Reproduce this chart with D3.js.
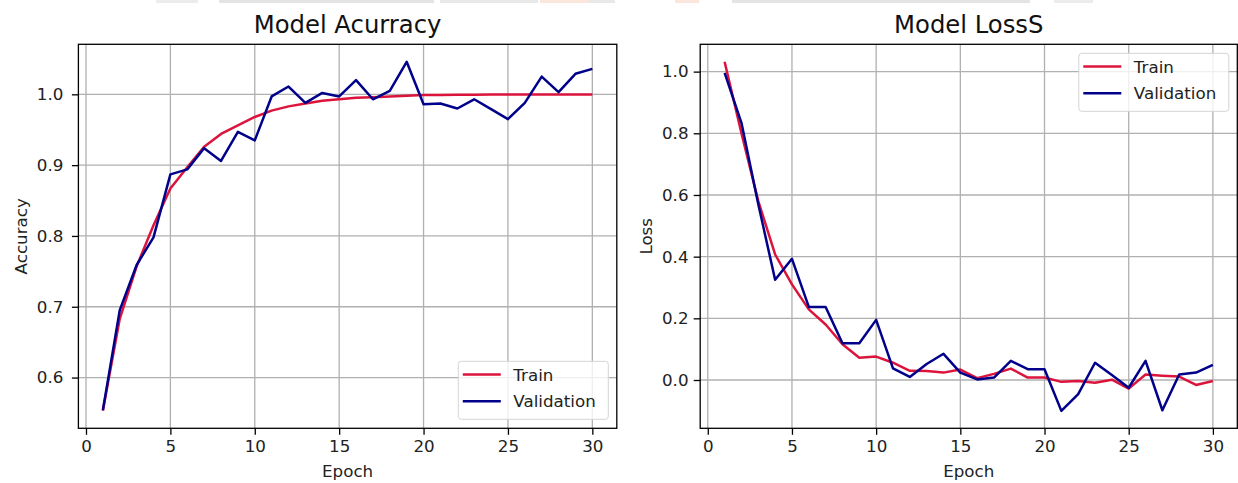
<!DOCTYPE html>
<html>
<head>
<meta charset="utf-8">
<script src="https://cdn.jsdelivr.net/npm/d3@7"></script>
<style>
  body { margin: 0; background: #fff; }
  svg { display: block; font-family: "DejaVu Sans", sans-serif; }
</style>
</head>
<body>
<div id="chart"></div>
<script>
// Data
const epochs = d3.range(1, 31);

const trainAcc = [0.553, 0.683, 0.757, 0.815, 0.867, 0.897, 0.926, 0.944, 0.956, 0.968,
                  0.977, 0.983, 0.987, 0.991, 0.993, 0.995, 0.996, 0.997, 0.998, 0.999,
                  0.999, 0.9993, 0.9995, 0.9996, 0.9997, 0.9998, 0.9998, 0.9999, 0.9999, 0.9999];
const valAcc = [0.554, 0.695, 0.759, 0.798, 0.887, 0.894, 0.924, 0.906, 0.947, 0.935,
                0.997, 1.011, 0.988, 1.002, 0.997, 1.020, 0.993, 1.005, 1.046, 0.986,
                0.987, 0.980, 0.993, 0.979, 0.965, 0.988, 1.025, 1.003, 1.029, 1.036];

const trainLoss = [1.032, 0.800, 0.580, 0.407, 0.310, 0.229, 0.180, 0.116, 0.072, 0.076,
                   0.056, 0.030, 0.029, 0.024, 0.034, 0.006, 0.020, 0.037, 0.008, 0.008,
                   -0.006, -0.003, -0.009, 0.001, -0.028, 0.018, 0.014, 0.011, -0.016, -0.003];
const valLoss = [0.996, 0.834, 0.570, 0.325, 0.393, 0.237, 0.237, 0.119, 0.119, 0.195,
                 0.038, 0.010, 0.052, 0.085, 0.024, 0.002, 0.008, 0.062, 0.035, 0.035,
                 -0.100, -0.046, 0.056, 0.016, -0.025, 0.062, -0.098, 0.018, 0.024, 0.049];

const xTicks = [0, 5, 10, 15, 20, 25, 30];
const accTicks = [0.6, 0.7, 0.8, 0.9, 1.0];
const lossTicks = [0.0, 0.2, 0.4, 0.6, 0.8, 1.0];
const seriesNames = ["Train", "Validation"];

const width = 1238, height = 483;
const trainColor = "#dc143c", valColor = "#00008b";
const gridColor = "#b0b0b0";
const fontSize = 16.7;

const svg = d3.select("#chart")
    .append("svg")
    .attr("width", width)
    .attr("height", height);

// faint strip left over at the top of the screenshot
const strips = [[156, 198, "#ececec"], [219, 434, "#e4e4e4"], [440, 538, "#e8e8e8"],
                [540, 589, "#fbe6dc"], [589, 615, "#e8e8e8"], [675, 699, "#fbe6dc"],
                [732, 1030, "#e4e4e4"], [1054, 1093, "#ececec"]];
svg.selectAll(".strip").data(strips).enter().append("rect")
    .attr("class", "strip")
    .attr("x", d => d[0]).attr("y", 0)
    .attr("width", d => d[1] - d[0]).attr("height", 3)
    .attr("fill", d => d[2]);

function drawPanel(p) {
    const all = p.train.concat(p.val);
    const lo = d3.min(all), hi = d3.max(all), pad = (hi - lo) * 0.05;

    const x = d3.scaleLinear().domain([1 - 1.45, 30 + 1.45]).range([p.left, p.right]);
    const y = d3.scaleLinear().domain([lo - pad, hi + pad]).range([428.3, 44.3]);

    const g = svg.append("g");

    // grid
    g.selectAll(".vgrid").data(xTicks).enter().append("line")
        .attr("x1", d => x(d)).attr("x2", d => x(d))
        .attr("y1", y.range()[1]).attr("y2", y.range()[0])
        .attr("stroke", gridColor).attr("stroke-width", 1.3);
    g.selectAll(".hgrid").data(p.yTicks).enter().append("line")
        .attr("x1", p.left).attr("x2", p.right)
        .attr("y1", d => y(d)).attr("y2", d => y(d))
        .attr("stroke", gridColor).attr("stroke-width", 1.3);

    // axes
    const xAxis = g.append("g")
        .attr("transform", `translate(0,${y.range()[0]})`)
        .call(d3.axisBottom(x).tickValues(xTicks).tickSize(6.5).tickPadding(5).tickFormat(d3.format("d")));
    const yAxis = g.append("g")
        .attr("transform", `translate(${p.left},0)`)
        .call(d3.axisLeft(y).tickValues(p.yTicks).tickSize(6.5).tickPadding(p.labelPad).tickFormat(d3.format(".1f")));
    [xAxis, yAxis].forEach(a => {
        a.select(".domain").remove();
        a.selectAll("line").attr("stroke", "#000").attr("stroke-width", 1.3);
        a.selectAll("text").attr("fill", "#222").style("font-size", fontSize + "px")
            .style("font-family", "DejaVu Sans");
    });

    // lines
    const line = vals => d3.line().x((d, i) => x(epochs[i])).y(d => y(d))(vals);
    g.append("path").attr("d", line(p.train)).attr("fill", "none")
        .attr("stroke", trainColor).attr("stroke-width", 2.5).attr("stroke-linejoin", "round");
    g.append("path").attr("d", line(p.val)).attr("fill", "none")
        .attr("stroke", valColor).attr("stroke-width", 2.5).attr("stroke-linejoin", "round");

    // frame
    g.append("rect")
        .attr("x", p.left).attr("y", y.range()[1])
        .attr("width", p.right - p.left).attr("height", y.range()[0] - y.range()[1])
        .attr("fill", "none").attr("stroke", "#000").attr("stroke-width", 1.3);

    // titles and labels
    const cx = (p.left + p.right) / 2;
    g.append("text").attr("x", cx).attr("y", 32.7).attr("text-anchor", "middle")
        .style("font-size", "24.3px").attr("fill", "#111").text(p.title);
    g.append("text").attr("x", cx).attr("y", 477).attr("text-anchor", "middle")
        .style("font-size", fontSize + "px").attr("fill", "#222").text("Epoch");
    g.append("text")
        .attr("transform", `translate(${p.yLabelX},${(428.3 + 44.3) / 2}) rotate(-90)`)
        .attr("text-anchor", "middle")
        .style("font-size", fontSize + "px").attr("fill", "#222").text(p.yLabel);

    // legend
    const lw = 150, lh = 58;
    const lx = p.right - 8.5 - lw;
    const ly = p.legendTop ? 44.3 + 9 : 428.3 - 9 - lh;
    const lg = g.append("g").attr("transform", `translate(${lx},${ly})`);
    lg.append("rect").attr("width", lw).attr("height", lh).attr("rx", 3)
        .attr("fill", "#fff").attr("fill-opacity", 0.8)
        .attr("stroke", "#d4d4d4").attr("stroke-width", 1);
    seriesNames.forEach((name, i) => {
        const ry = 13.3 + i * 26.7;
        lg.append("line").attr("x1", 4.5).attr("x2", 42.5).attr("y1", ry).attr("y2", ry)
            .attr("stroke", i === 0 ? trainColor : valColor).attr("stroke-width", 2.5);
        lg.append("text").attr("x", 55).attr("y", ry).attr("dy", "0.36em")
            .style("font-size", fontSize + "px").attr("fill", "#222").text(name);
    });
}

drawPanel({ title: "Model Acurracy", yLabel: "Accuracy", train: trainAcc, val: valAcc,
            yTicks: accTicks, left: 78.4, right: 616.8, labelPad: 8.5, yLabelX: 27, legendTop: false });
drawPanel({ title: "Model LossS", yLabel: "Loss", train: trainLoss, val: valLoss,
            yTicks: lossTicks, left: 700.2, right: 1237.3, labelPad: 5.2, yLabelX: 651.5, legendTop: true });
</script>
</body>
</html>
